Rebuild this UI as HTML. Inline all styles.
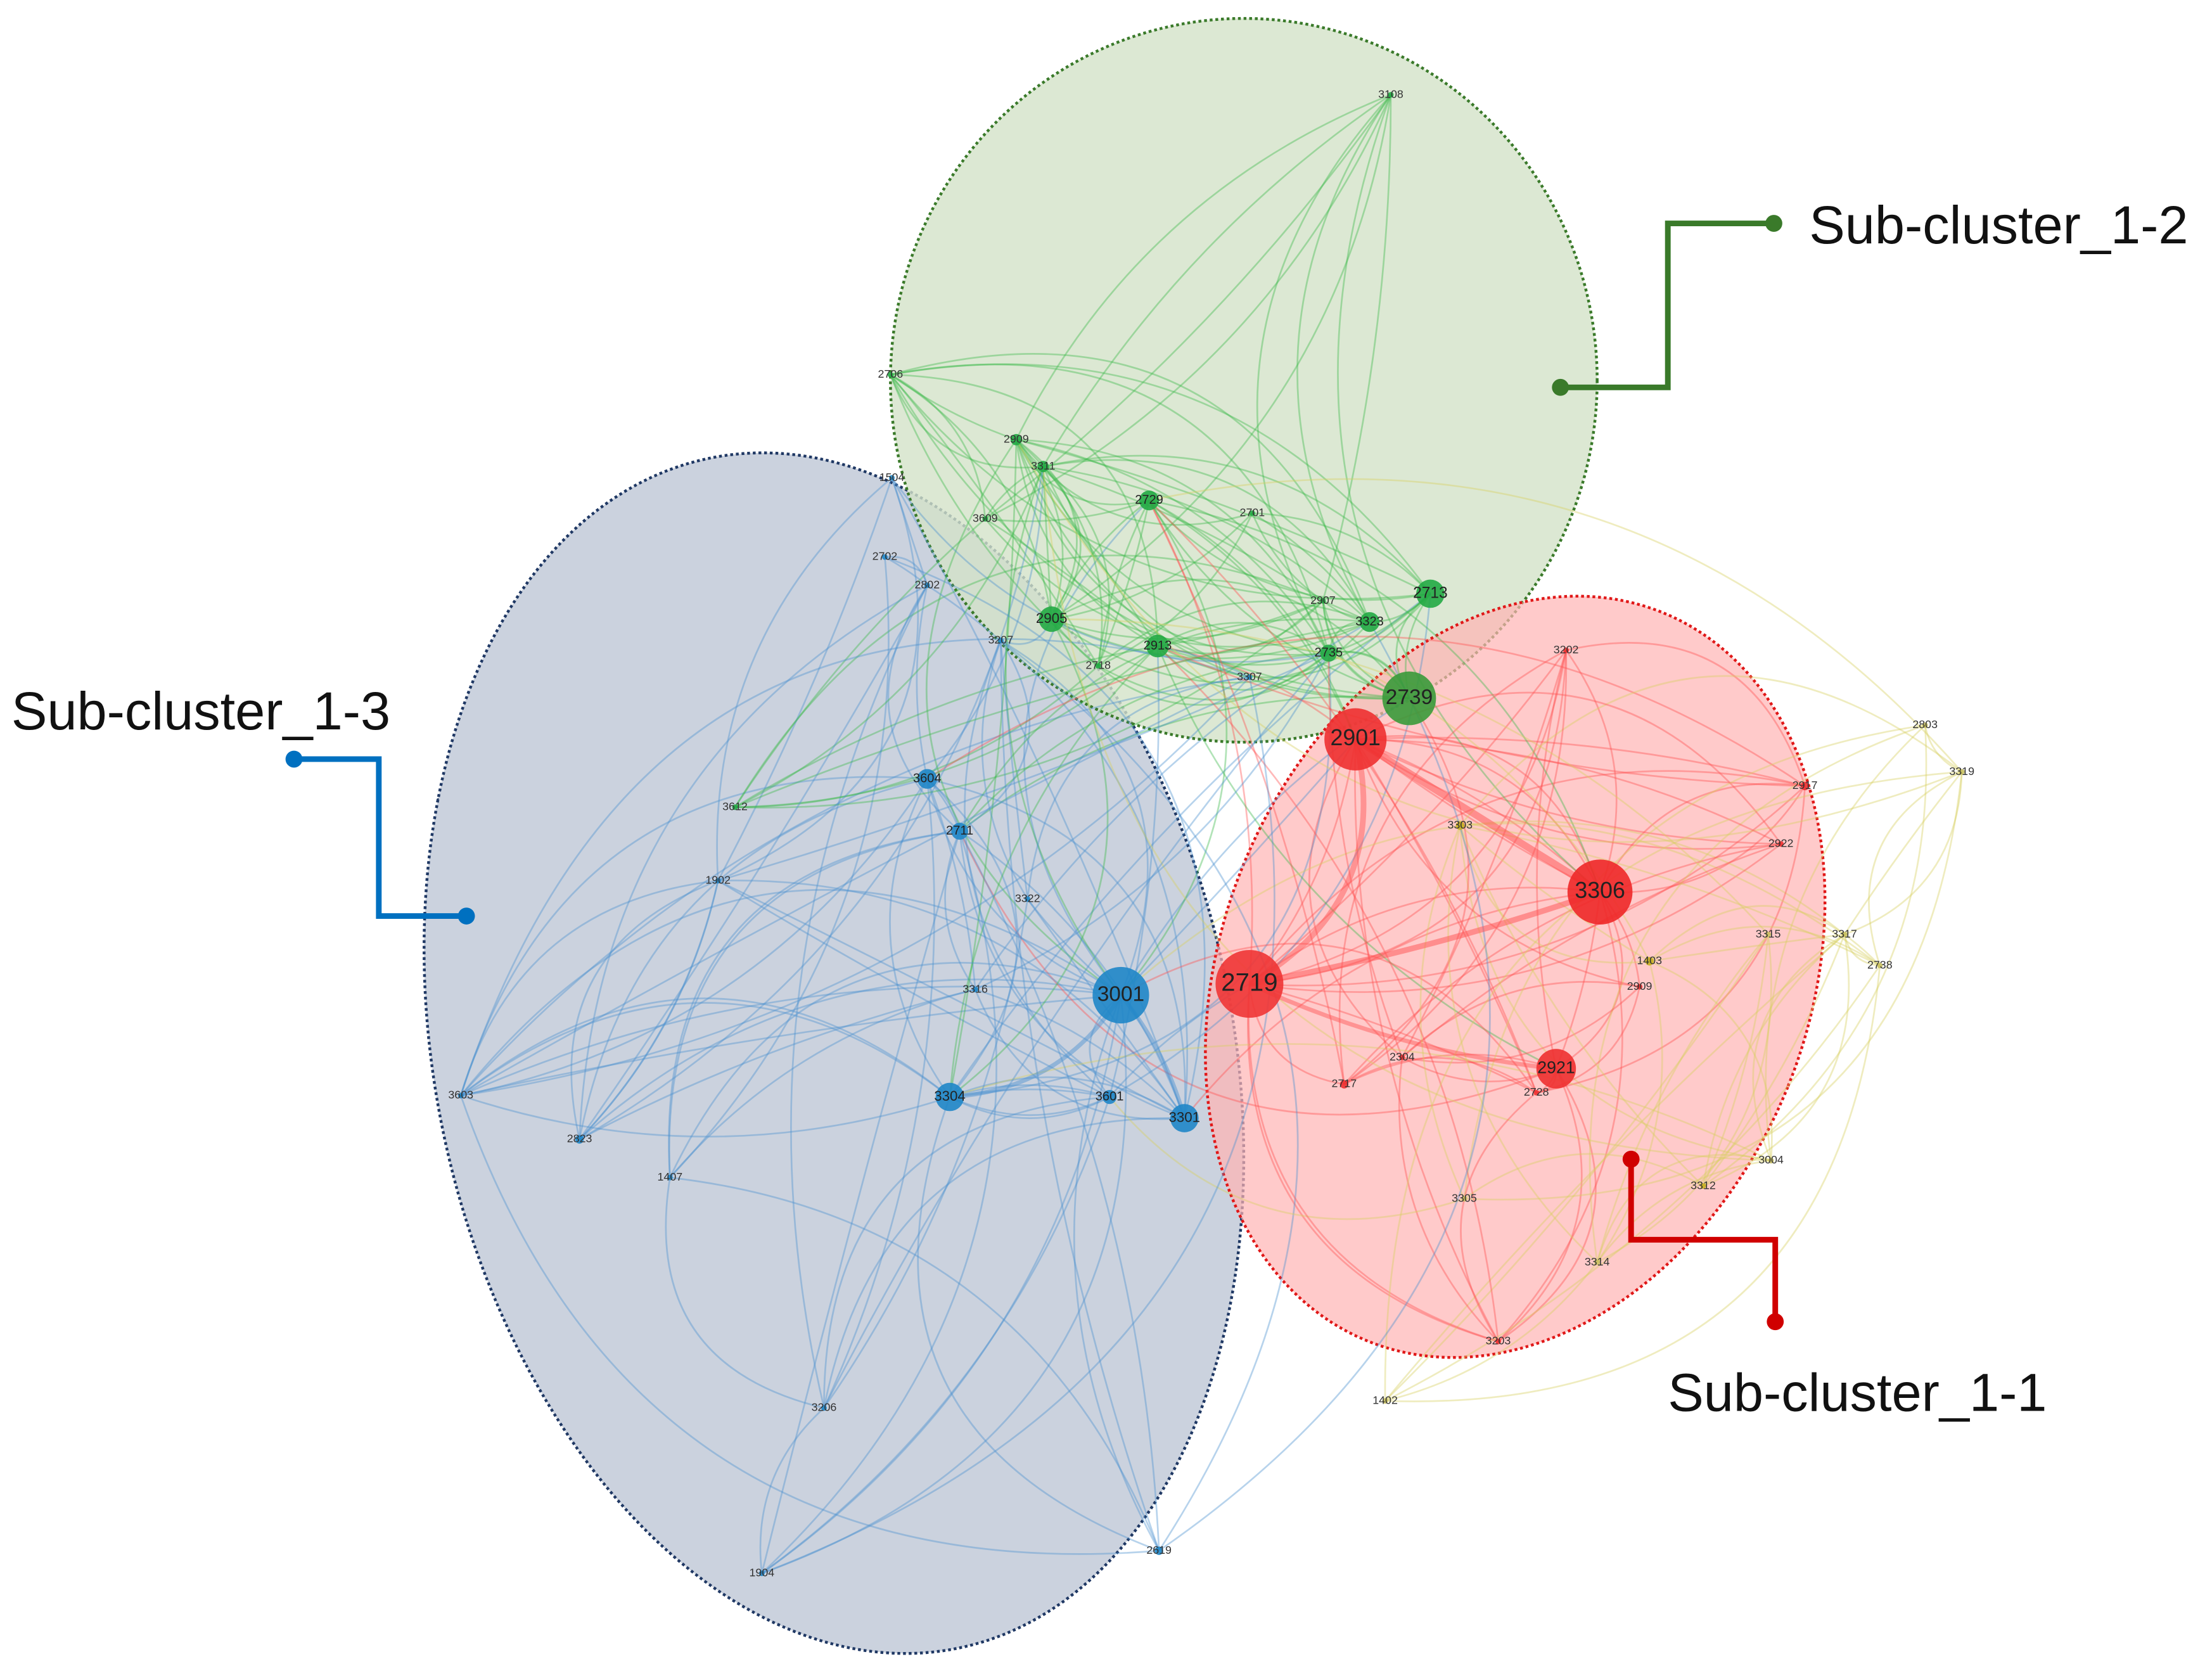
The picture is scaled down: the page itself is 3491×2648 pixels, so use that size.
<!DOCTYPE html>
<html><head><meta charset="utf-8"><style>
html,body{margin:0;padding:0;background:#fff;}
svg{display:block}
.l{font-family:"Liberation Sans",sans-serif;font-size:8px;fill:#333;text-anchor:middle;dominant-baseline:middle}
.L{font-family:"Liberation Sans",sans-serif;fill:#222;text-anchor:middle;dominant-baseline:middle}
.c{font-family:"Liberation Sans",sans-serif;font-size:38px;fill:#111}
</style></head><body>
<svg width="3491" height="2648" viewBox="0 0 1565 1187" xmlns="http://www.w3.org/2000/svg">
<rect width="1565" height="1187" fill="#fff"/>
<ellipse cx="590" cy="745" rx="282" ry="430" transform="rotate(-12 590 745)" fill="#cbd2de" stroke="#1f3864" stroke-width="2" stroke-dasharray="2 2"/>
<ellipse cx="880" cy="269" rx="250" ry="256" fill="#d3e2c8" fill-opacity="0.8" stroke="#3a7a2a" stroke-width="2" stroke-dasharray="2 2"/>
<ellipse cx="1072" cy="691" rx="208" ry="278" transform="rotate(22 1072 691)" fill="#ffb3b3" fill-opacity="0.7" stroke="#e01818" stroke-width="2" stroke-dasharray="2 2"/>
<g id="edges" fill="none"></g>
<g id="nodes"></g>
<g>
<text class="l" x="984" y="67">3108</text><text class="l" x="630" y="265">2706</text><text class="l" x="631" y="338">1504</text>
<text class="l" x="697" y="367">3609</text><text class="l" x="886" y="363">2701</text><text class="l" x="626" y="394">2702</text>
<text class="l" x="656" y="414">2802</text><text class="l" x="708" y="453">3207</text><text class="l" x="777" y="471">2718</text>
<text class="l" x="884" y="479">3307</text><text class="l" x="936" y="425">2907</text><text class="l" x="1108" y="460">3202</text>
<text class="l" x="1033" y="584">3303</text><text class="l" x="1277" y="556">2917</text><text class="l" x="1362" y="513">2803</text>
<text class="l" x="1388" y="546">3319</text><text class="l" x="1260" y="597">2922</text><text class="l" x="1251" y="661">3315</text>
<text class="l" x="1305" y="661">3317</text><text class="l" x="1330" y="683">2738</text><text class="l" x="1167" y="680">1403</text>
<text class="l" x="1160" y="698">2909</text><text class="l" x="992" y="748">2304</text><text class="l" x="951" y="767">2717</text>
<text class="l" x="1087" y="773">2728</text><text class="l" x="1253" y="821">3004</text><text class="l" x="1205" y="839">3312</text>
<text class="l" x="1036" y="848">3305</text><text class="l" x="1130" y="893">3314</text><text class="l" x="1060" y="949">3203</text>
<text class="l" x="980" y="991">1402</text><text class="l" x="520" y="571">3612</text><text class="l" x="508" y="623">1902</text>
<text class="l" x="727" y="636">3322</text><text class="l" x="690" y="700">3316</text><text class="l" x="326" y="775">3603</text>
<text class="l" x="410" y="806">2823</text><text class="l" x="474" y="833">1407</text><text class="l" x="583" y="996">3206</text>
<text class="l" x="539" y="1113">1904</text><text class="l" x="820" y="1097">2619</text><text class="l" x="738" y="330">3311</text>
<text class="l" x="719" y="311">2909</text>
<text class="L" x="793" y="704" font-size="15">3001</text><text class="L" x="884" y="696" font-size="18">2719</text>
<text class="L" x="959" y="523" font-size="16">2901</text><text class="L" x="1132" y="631" font-size="16">3306</text>
<text class="L" x="997" y="494" font-size="15">2739</text><text class="L" x="1101" y="756" font-size="12">2921</text>
<text class="L" x="672" y="776" font-size="10">3304</text><text class="L" x="838" y="791" font-size="10">3301</text>
<text class="L" x="656" y="551" font-size="9">3604</text><text class="L" x="679" y="588" font-size="9">2711</text>
<text class="L" x="785" y="776" font-size="9">3601</text><text class="L" x="744" y="438" font-size="10">2905</text>
<text class="L" x="819" y="457" font-size="9">2913</text><text class="L" x="813" y="354" font-size="9">2729</text>
<text class="L" x="1012" y="420" font-size="11">2713</text><text class="L" x="969" y="440" font-size="9">3323</text>
<text class="L" x="940" y="462" font-size="9">2735</text>
</g>
<g stroke-width="4" fill="none">
<polyline points="1104,274 1180,274 1180,158 1255,158" stroke="#3a7a2a"/>
<polyline points="208,537 268,537 268,648 330,648" stroke="#0070c0"/>
<polyline points="1154,820 1154,877 1256,877 1256,935" stroke="#d00000"/>
</g>
<circle cx="1104" cy="274" r="6" fill="#3a7a2a"/><circle cx="1255" cy="158" r="6" fill="#3a7a2a"/>
<circle cx="208" cy="537" r="6" fill="#0070c0"/><circle cx="330" cy="648" r="6" fill="#0070c0"/>
<circle cx="1154" cy="820" r="6" fill="#d00000"/><circle cx="1256" cy="935" r="6" fill="#d00000"/>
<text class="c" x="1280" y="172">Sub-cluster_1-2</text>
<text class="c" x="8" y="516">Sub-cluster_1-3</text>
<text class="c" x="1180" y="998">Sub-cluster_1-1</text>
</svg>
<script>
var N={
a3001:[793,704,20,'#1f86c8','b'],a2719:[884,696,24,'#f03535','r'],a2901:[959,523,22,'#ee3030','r'],a3306:[1132,631,23,'#ee2828','r'],
a2739:[997,494,19,'#3a9a3a','g'],a2921:[1101,756,14,'#ee3030','r'],a3304:[672,776,10,'#1f86c8','b'],a3301:[838,791,10,'#1f86c8','b'],
a3604:[656,551,7,'#1f86c8','b'],a2711:[679,588,6,'#1f86c8','b'],a3601:[785,776,5,'#1f86c8','b'],a2905:[744,438,9,'#22aa44','g'],
a2913:[819,457,8,'#22aa44','g'],a2729:[813,354,7,'#22aa44','g'],a2713:[1012,420,10,'#22aa44','g'],a3323:[969,440,7,'#22aa44','g'],
a2735:[940,462,6,'#22aa44','g'],a3311:[738,330,4,'#22aa44','g'],a2909:[719,311,4,'#22aa44','g'],
s3108:[984,67,2,'#22aa44','g'],s2706:[630,265,2,'#22aa44','g'],s1504:[631,338,2,'#1f86c8','b'],s3609:[697,367,2,'#22aa44','g'],
s2701:[886,363,2,'#22aa44','g'],s2702:[626,394,2,'#1f86c8','b'],s2802:[656,414,2,'#1f86c8','b'],s3207:[708,453,2,'#1f86c8','b'],
s2718:[777,471,2,'#22aa44','g'],s3307:[884,479,2,'#1f86c8','b'],s2907:[936,425,2,'#22aa44','g'],s3202:[1108,460,2,'#ee3030','r'],
s3303:[1033,584,3,'#c8b020','y'],s2917:[1277,556,3,'#ee3030','r'],s2803:[1362,513,2,'#c8c060','y'],s3319:[1388,546,2,'#c8c060','y'],
s2922:[1260,597,2,'#ee3030','r'],s3315:[1251,661,2,'#c8c060','y'],s3317:[1305,661,2,'#c8c060','y'],s2738:[1330,683,2,'#c8c060','y'],
s1403:[1167,680,3,'#c8b020','y'],s2909b:[1160,698,2,'#ee3030','r'],s2304:[992,748,2,'#ee3030','r'],s2717:[951,767,3,'#ee3030','r'],
s2728:[1087,773,2,'#ee3030','r'],s3004:[1253,821,2,'#c8c060','y'],s3312:[1205,839,2,'#c8b020','y'],s3305:[1036,848,2,'#c8c060','y'],
s3314:[1130,893,2,'#c8c060','y'],s3203:[1060,949,2,'#ee3030','r'],s1402:[980,991,2,'#c8c060','y'],s3612:[520,571,2,'#22aa44','g'],
s1902:[508,623,2,'#1f86c8','b'],s3322:[727,636,2,'#1f86c8','b'],s3316:[690,700,2,'#1f86c8','b'],s3603:[326,775,2,'#1f86c8','b'],
s2823:[410,806,3,'#1f86c8','b'],s1407:[474,833,2,'#1f86c8','b'],s3206:[583,996,2,'#1f86c8','b'],s1904:[539,1113,2,'#1f86c8','b'],
s2619:[820,1097,3,'#1f86c8','b']};
var col={b:'#4a90d0',g:'#3cb84c',r:'#ff5050',y:'#d8d060'};
var keys=Object.keys(N),seed=7;function rnd(){seed=(seed*16807)%2147483647;return seed/2147483647;}
var big=keys.filter(function(k){return k[0]=='a'});
var E=document.getElementById('edges'),h='';
function edge(a,b,w,op,c){var p=N[a],q=N[b];var mx=(p[0]+q[0])/2,my=(p[1]+q[1])/2,dx=q[0]-p[0],dy=q[1]-p[1];var s=(rnd()-0.5)*1.0;
h+='<path d="M'+p[0]+' '+p[1]+' Q'+(mx-dy*s)+' '+(my+dx*s)+' '+q[0]+' '+q[1]+'" stroke="'+c+'" stroke-width="'+w+'" stroke-opacity="'+op+'"/>';}
keys.forEach(function(k){var n=N[k];var cnt=k[0]=='a'?8:4;for(var i=0;i<cnt;i++){var t;
if(rnd()<0.7){var same=keys.filter(function(j){return N[j][4]==n[4]&&j!=k});t=same[Math.floor(rnd()*same.length)];}else t=big[Math.floor(rnd()*big.length)];
if(t&&t!=k)edge(k,t,1.2,0.4,col[n[4]]);}});
edge('a2901','a3306',5,0.5,'#ff5050');edge('a2719','a3306',4,0.5,'#ff5050');edge('a2901','a2719',4,0.45,'#ff5050');
edge('a2719','a2921',3,0.45,'#ff5050');edge('a3001','a3304',3,0.45,'#4a90d0');edge('a3001','a3301',3,0.45,'#4a90d0');
E.innerHTML=h;
var g='';keys.forEach(function(k){var n=N[k];g+='<circle cx="'+n[0]+'" cy="'+n[1]+'" r="'+n[2]+'" fill="'+n[3]+'" fill-opacity="0.9"/>';});
document.getElementById('nodes').innerHTML=g;
</script>
</body></html>
